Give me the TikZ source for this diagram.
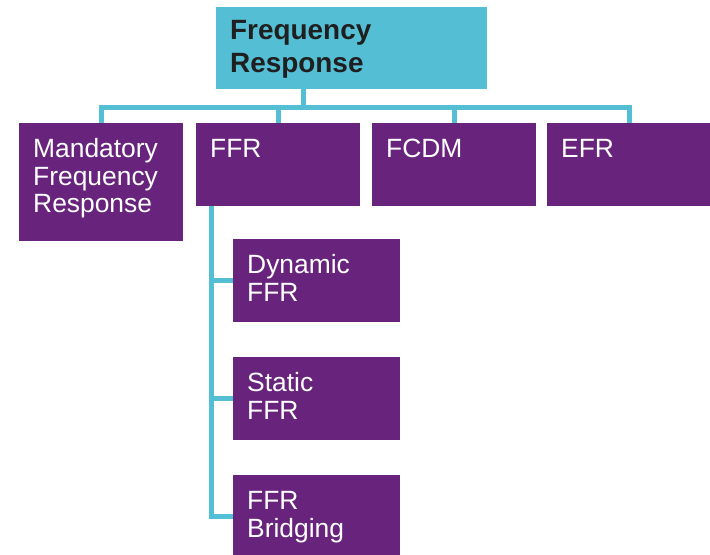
\documentclass[tikz,border=0pt]{standalone}
\usepackage{fontspec}
\setmainfont{Liberation Sans}
\usetikzlibrary{calc}
\definecolor{frcyan}{HTML}{54BED4}
\definecolor{frpurple}{HTML}{68247C}

\begin{document}
\begin{tikzpicture}[x=1bp, y=-1bp,
  every node/.style = {shape=rectangle, anchor=north west, align=left, inner ysep=0pt, inner xsep=14bp},
  head/.style = {fill=frcyan, text=black!88, font=\bfseries\fontsize{28}{33}\selectfont,
    text width=243bp, text height=32bp, text depth=50bp},
  item/.style = {fill=frpurple, text=white, font=\fontsize{26.5}{28}\selectfont,
    text width=#1, text height=34bp, text depth=49bp},
  item/.default = 136bp,
  link/.style = {draw=frcyan, line width=5bp}]

  \useasboundingbox (0,0) rectangle (710,555);

  \node[head] (fr) at (216,7) {Frequency\\Response};

  \node[item, text depth=84bp] (mfr) at (19,123) {Mandatory\\Frequency\\Response};
  \node[item] (ffr) at (196,123) {FFR};
  \node[item] (fcdm) at (372,123) {FCDM};
  \node[item] (efr) at (547,123) {EFR};

  \node[item=139bp] (dyn) at (233,239) {Dynamic\\FFR};
  \node[item=139bp] (stat) at (233,357) {Static\\FFR};
  \node[item=139bp] (bridge) at (233,475) {FFR\\Bridging};

  \coordinate (stem) at ($(fr.south west)+(87,0)$);
  \coordinate (bus) at ($(stem)+(0,18)$);
  \draw[link] (stem) -- (bus);
  \draw[link] (mfr.north) |- (bus) -| (efr.north);
  \draw[link] (ffr.north) -- (ffr.north |- bus);
  \draw[link] (fcdm.north) -- (fcdm.north |- bus);

  \coordinate (spine) at ($(ffr.south west)+(15,0)$);
  \draw[link] (spine) |- (dyn.west);
  \draw[link] (spine) |- (stat.west);
  \draw[link] (spine) |- (bridge.west);
\end{tikzpicture}
\end{document}
